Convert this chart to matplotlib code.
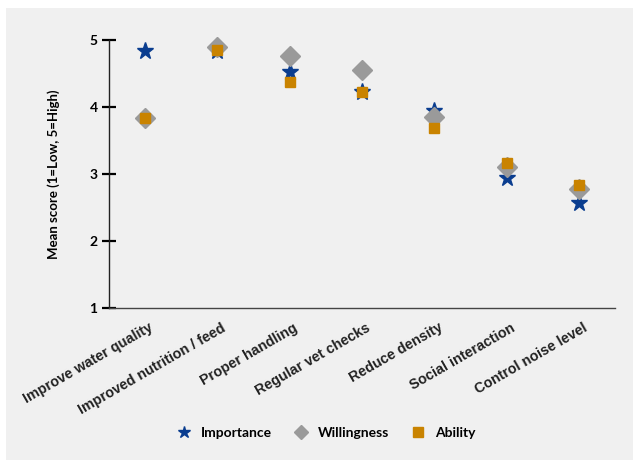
import matplotlib.pyplot as plt
from matplotlib.lines import Line2D
from matplotlib.patches import Rectangle
from matplotlib.transforms import ScaledTranslation

categories = ["Improve water quality", "Improved nutrition / feed", "Proper handling",
              "Regular vet checks", "Reduce density", "Social interaction",
              "Control noise level"]
importance = [4.84, 4.83, 4.52, 4.22, 3.94, 2.94, 2.57]
willingness = [3.84, 4.90, 4.76, 4.55, 3.85, 3.10, 2.77]
ability = [3.83, 4.85, 4.37, 4.22, 3.69, 3.17, 2.83]
yticks = [1, 2, 3, 4, 5]

BG = "#f0f0f0"
C_IMP, C_WIL, C_ABI = "#0a3d8f", "#9a9a9a", "#c98300"

fig = plt.figure(figsize=(6.41, 4.68), dpi=100, facecolor="white")
fig.patches.append(Rectangle((6 / 641, 8 / 468), 627 / 641, 452 / 468,
                             transform=fig.transFigure, facecolor=BG,
                             edgecolor="none", zorder=-10))

ax = fig.add_axes([109 / 641, 1 - 308 / 468, 506 / 641, 268 / 468])
ax.patch.set_visible(False)

x = list(range(len(categories)))
ax.plot(x, importance, linestyle="none", marker="*", ms=12.5, color=C_IMP,
        clip_on=False, zorder=3)
ax.plot(x, willingness, linestyle="none", marker="D", ms=10, color=C_WIL,
        clip_on=False, zorder=4)
ax.plot(x, ability, linestyle="none", marker="s", ms=7.5, color=C_ABI,
        clip_on=False, zorder=5)

ax.set_xlim(-0.5, len(categories) - 0.5)
ax.set_ylim(1, 5)
ax.set_yticks(yticks)
ax.set_xticks(x)
ax.set_xticklabels([])

# slanted category labels, placed a bit right of each tick like the source
offset = ScaledTranslation(0.07, -0.187, fig.dpi_scale_trans)
for i, cat in zip(x, categories):
    ax.text(i, 0, cat, transform=ax.get_xaxis_transform() + offset,
            rotation=30, ha="right", va="center", rotation_mode="anchor",
            fontsize=10.3, fontweight="bold", family="Liberation Sans",
            color="#222222")

for lab in ax.get_yticklabels():
    lab.set_fontfamily("Lato")
    lab.set_fontweight("bold")
    lab.set_fontsize(10)
ax.tick_params(axis="x", length=0)
ax.tick_params(axis="y", direction="inout", length=10.5, width=1.6, pad=3,
               color="black")

for s in ["top", "right"]:
    ax.spines[s].set_visible(False)
ax.spines["left"].set_linewidth(1.0)
ax.spines["left"].set_color("#222222")
ax.spines["bottom"].set_linewidth(1.0)
ax.spines["bottom"].set_color("#444444")

ax.set_ylabel("Mean score (1=Low, 5=High)", fontsize=9.5, fontweight="bold",
              family="Lato", labelpad=21)

handles = [
    Line2D([], [], linestyle="none", marker="*", ms=9, color=C_IMP),
    Line2D([], [], linestyle="none", marker="D", ms=7.4, color=C_WIL),
    Line2D([], [], linestyle="none", marker="s", ms=7.5, color=C_ABI),
]
fig.legend(handles, ["Importance", "Willingness", "Ability"],
           loc="center", bbox_to_anchor=(0.508, 0.075), ncol=3, frameon=False,
           prop={"family": "Lato", "weight": "bold", "size": 10},
           handlelength=1.2, handletextpad=0.65, columnspacing=1.45)

fig.savefig("out.png", dpi=100, facecolor="white")
